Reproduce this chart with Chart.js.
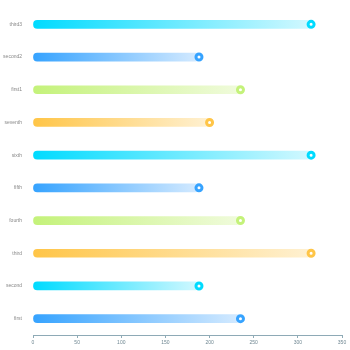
<!DOCTYPE html>
<html>
<head>
<meta charset="utf-8">
<script src="https://cdn.jsdelivr.net/npm/chart.js@4"></script>
<style>
  html, body { margin: 0; padding: 0; background: #fff; }
  #wrap { width: 350px; height: 350px; }
</style>
</head>
<body>
<div id="wrap"><canvas id="barChart"></canvas></div>
<script>
const categories = ['first', 'second', 'third', 'fourth', 'fifth', 'sixth', 'seventh', 'first1', 'second2', 'third3'];
const values = [235, 188, 315, 235, 188, 315, 200, 235, 188, 315];
const xTicks = [0, 50, 100, 150, 200, 250, 300, 350];

// colour cycle: blue, cyan, yellow, green (start / end of gradient)
const startColors = ['#36a3ff', '#00dbff', '#ffc547', '#c4f27a'];
const endColors = ['#d4eaff', '#d2f8ff', '#fff1d2', '#f0fbdc'];

function barGradient(context) {
  const i = context.dataIndex;
  const chart = context.chart;
  const c = i % 4;
  const xs = chart.scales && chart.scales.x;
  if (!chart.chartArea || !xs) return startColors[c];
  const x0 = xs.getPixelForValue(0);
  const x1 = xs.getPixelForValue(values[i]);
  const g = chart.ctx.createLinearGradient(x0, 0, x1, 0);
  g.addColorStop(0, startColors[c]);
  g.addColorStop(1, endColors[c]);
  return g;
}

const ctx = document.getElementById('barChart').getContext('2d');
const chart = new Chart(ctx, {
  data: {
    labels: categories,
    datasets: [
      {
        type: 'line',
        indexAxis: 'y',
        data: values,
        showLine: false,
        pointRadius: 3,
        pointHoverRadius: 3,
        pointBorderWidth: 3,
        pointBackgroundColor: '#ffffff',
        pointBorderColor: ctx2 => startColors[ctx2.dataIndex % 4],
        order: 0
      },
      {
        type: 'bar',
        data: values,
        backgroundColor: barGradient,
        barThickness: 8,
        borderRadius: 4,
        borderSkipped: false,
        order: 1
      }
    ]
  },
  options: {
    indexAxis: 'y',
    responsive: true,
    maintainAspectRatio: false,
    animation: false,
    layout: { padding: { top: 8, right: 8, left: 0, bottom: 0 } },
    plugins: { legend: { display: false }, tooltip: { enabled: false } },
    scales: {
      x: {
        min: 0,
        max: 350,
        afterBuildTicks: s => { s.ticks = xTicks.map(v => ({ value: v })); },
        afterFit: s => { s.height = 15; },
        grid: { drawOnChartArea: false, drawTicks: true, tickLength: 3, color: '#8eaab6' },
        border: { display: true, color: '#8eaab6' },
        ticks: { color: '#6f8792', font: { family: 'Liberation Sans', size: 5 }, padding: 2 }
      },
      y: {
        reverse: true,
        afterFit: s => { s.width = 33; },
        grid: { display: false },
        border: { display: false },
        ticks: { color: '#888', font: { family: 'Liberation Sans', size: 5 }, padding: 3 }
      }
    }
  }
});
</script>
</body>
</html>
